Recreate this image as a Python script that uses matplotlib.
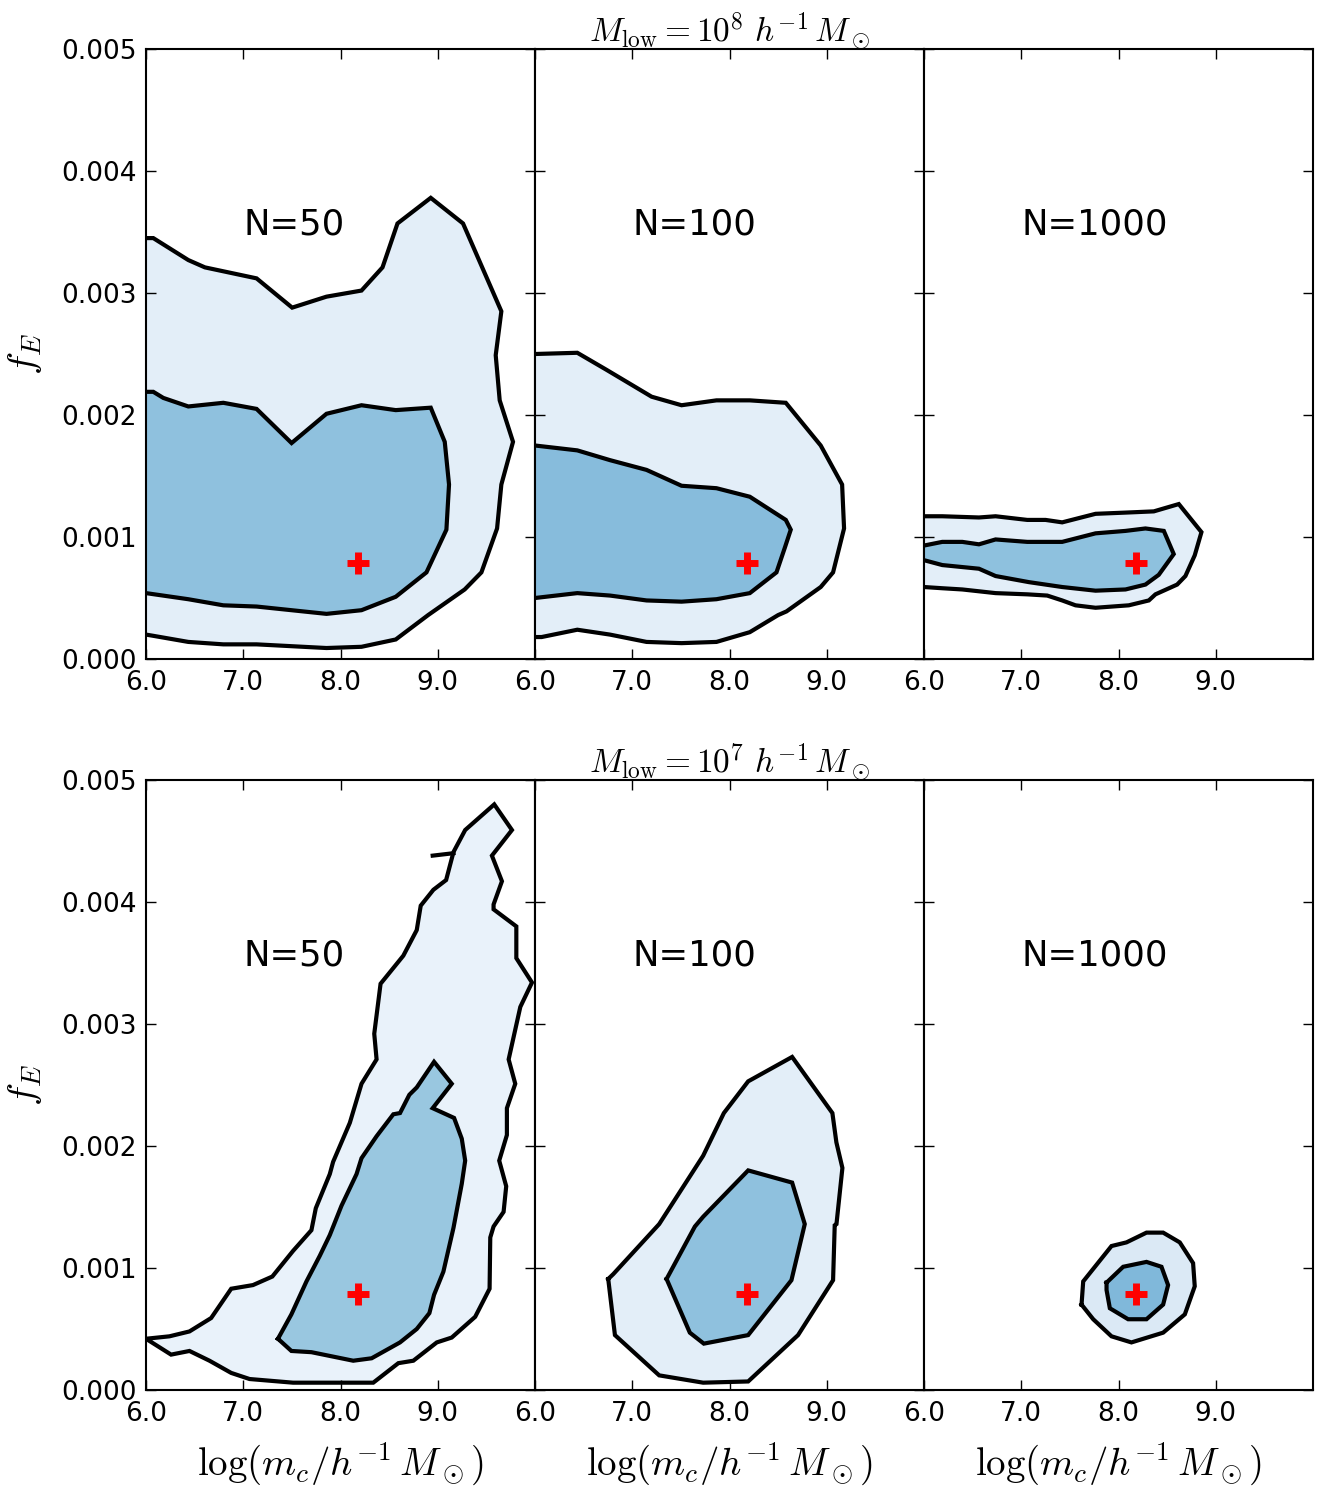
import matplotlib
matplotlib.use('Agg')
import matplotlib.pyplot as plt
from matplotlib.ticker import FormatStrFormatter

plt.rcParams['mathtext.fontset'] = 'cm'
plt.rcParams['font.family'] = 'DejaVu Sans'

# true (input) parameters, red cross
mc_true = 8.18
fe_true = 0.00079

n_labels = ['N=50', 'N=100', 'N=1000']
row_titles = [r'$M_{\rm low}=10^8\ h^{-1}\,M_\odot$', r'$M_{\rm low}=10^7\ h^{-1}\,M_\odot$']
xticks = [6.0, 7.0, 8.0, 9.0]
yticks = [0.000, 0.001, 0.002, 0.003, 0.004, 0.005]

# ---- M_low = 1e8, N=50
t50_out_x = [6.0, 6.075, 6.435, 6.606, 7.137, 7.503, 7.856, 8.216, 8.432, 8.586, 8.928, 9.260, 9.654, 9.596,
             9.637, 9.774, 9.654, 9.610, 9.449, 9.277, 8.901, 8.568, 8.216, 7.856, 7.137, 6.795, 6.435, 6.075, 6.0]
t50_out_y = [0.00345, 0.00345, 0.00327, 0.00321, 0.00312, 0.00288, 0.00297, 0.00302, 0.00321, 0.00357, 0.00378,
             0.00357, 0.00285, 0.00249, 0.00212, 0.00178, 0.00143, 0.00107, 0.00071, 0.00057, 0.00036, 0.00016,
             0.00010, 0.00009, 0.00012, 0.00012, 0.00014, 0.00019, 0.00020]
t50_in_x = [6.0, 6.075, 6.178, 6.435, 6.795, 7.137, 7.497, 7.856, 8.216, 8.568, 8.928, 9.072, 9.116, 9.089,
            8.884, 8.568, 8.216, 7.856, 7.137, 6.795, 6.435, 6.0]
t50_in_y = [0.00219, 0.00219, 0.00214, 0.00207, 0.00210, 0.00205, 0.00177, 0.00201, 0.00208, 0.00204, 0.00206,
            0.00178, 0.00143, 0.00106, 0.00071, 0.00051, 0.00040, 0.00037, 0.00043, 0.00044, 0.00049, 0.00054]

# ---- M_low = 1e8, N=100
t100_out_x = [6.0, 6.435, 6.736, 7.199, 7.507, 7.866, 8.209, 8.579, 8.938, 9.158, 9.178, 9.065, 8.938, 8.586,
              8.500, 8.209, 7.866, 7.507, 7.147, 6.771, 6.435, 6.068, 6.0]
t100_out_y = [0.00250, 0.00251, 0.00237, 0.00215, 0.00208, 0.00212, 0.00212, 0.00210, 0.00175, 0.00143, 0.00107,
              0.00071, 0.00059, 0.00039, 0.00036, 0.00022, 0.00014, 0.00013, 0.00014, 0.00020, 0.00024, 0.00018,
              0.00018]
t100_in_x = [6.0, 6.435, 6.771, 7.147, 7.507, 7.866, 8.209, 8.579, 8.630, 8.568, 8.483, 8.209, 7.866, 7.507,
             7.147, 6.771, 6.435, 6.0]
t100_in_y = [0.00175, 0.00171, 0.00163, 0.00155, 0.00142, 0.00140, 0.00133, 0.00114, 0.00106, 0.00091, 0.00071,
             0.00054, 0.00049, 0.00047, 0.00048, 0.00052, 0.00054, 0.00050]

# ---- M_low = 1e8, N=1000
t1000_out_x = [6.0, 6.188, 6.565, 6.736, 7.062, 7.250, 7.421, 7.764, 8.072, 8.363, 8.620, 8.853, 8.784, 8.688,
               8.603, 8.380, 8.312, 8.106, 7.764, 7.558, 7.421, 7.267, 7.062, 6.736, 6.394, 6.188, 6.0]
t1000_out_y = [0.00117, 0.00117, 0.00116, 0.00117, 0.00114, 0.00114, 0.00112, 0.00119, 0.00120, 0.00121, 0.00127,
               0.00104, 0.00085, 0.00068, 0.00061, 0.00053, 0.00048, 0.00044, 0.00042, 0.00044, 0.00048, 0.00052,
               0.00053, 0.00054, 0.00057, 0.00058, 0.00059]
t1000_in_x = [6.0, 6.188, 6.394, 6.565, 6.736, 7.062, 7.421, 7.764, 8.072, 8.277, 8.466, 8.568, 8.414, 8.277,
              8.072, 7.764, 7.421, 7.079, 6.736, 6.565, 6.188, 6.0]
t1000_in_y = [0.00093, 0.00096, 0.00096, 0.00094, 0.00098, 0.00096, 0.00096, 0.00103, 0.00105, 0.00107, 0.00105,
              0.00086, 0.00069, 0.00061, 0.00057, 0.00056, 0.00059, 0.00063, 0.00068, 0.00074, 0.00077, 0.00081]

# ---- M_low = 1e7, N=50
b50_out_x = [6.0, 6.241, 6.447, 6.670, 6.876, 7.100, 7.299, 7.512, 7.701, 7.746, 7.890, 7.924, 8.096, 8.216,
             8.371, 8.347, 8.412, 8.646, 8.784, 8.825, 8.955, 9.086, 9.162, 9.282, 9.581, 9.763, 9.557, 9.660,
             9.574, 9.574, 9.808, 9.808, 9.969, 9.849, 9.729, 9.797, 9.711, 9.711, 9.632, 9.704, 9.677, 9.574,
             9.540, 9.533, 9.385, 9.144, 8.990, 8.749, 8.595, 8.337, 8.113, 7.838, 7.512, 7.065, 6.876, 6.653,
             6.447, 6.258, 6.0]
b50_out_y = [0.00042, 0.00044, 0.00048, 0.00059, 0.00083, 0.00086, 0.00093, 0.00114, 0.00131, 0.00149, 0.00177,
             0.00187, 0.00219, 0.00251, 0.00271, 0.00292, 0.00333, 0.00356, 0.00377, 0.00397, 0.00410, 0.00418,
             0.00441, 0.00459, 0.00480, 0.00459, 0.00438, 0.00417, 0.00398, 0.00394, 0.00380, 0.00354, 0.00334,
             0.00314, 0.00271, 0.00251, 0.00231, 0.00209, 0.00188, 0.00167, 0.00146, 0.00134, 0.00125, 0.00083,
             0.00060, 0.00043, 0.00039, 0.00024, 0.00022, 0.00006, 0.00006, 0.00006, 0.00006, 0.00009, 0.00014,
             0.00024, 0.00032, 0.00029, 0.00042]
b50_in_x = [7.357, 7.495, 7.701, 8.131, 8.320, 8.612, 8.784, 8.914, 8.962, 9.058, 9.162, 9.247, 9.282, 9.247,
            9.168, 8.948, 9.144, 8.962, 8.784, 8.708, 8.612, 8.543, 8.371, 8.216, 8.165, 8.010, 7.890, 7.787,
            7.650, 7.495, 7.357]
b50_in_y = [0.00042, 0.00032, 0.00031, 0.00024, 0.00026, 0.00039, 0.00050, 0.00063, 0.00078, 0.00097, 0.00133,
            0.00169, 0.00188, 0.00206, 0.00223, 0.00231, 0.00251, 0.00269, 0.00248, 0.00242, 0.00227, 0.00226,
            0.00208, 0.00190, 0.00177, 0.00151, 0.00127, 0.00110, 0.00089, 0.00062, 0.00042]
b50_stray_x = [8.948, 9.162]
b50_stray_y = [0.00438, 0.00440]

# ---- M_low = 1e7, N=100
b100_out_x = [6.753, 6.822, 7.277, 7.729, 8.192, 8.705, 9.065, 9.082, 9.100, 9.161, 9.099, 9.058, 8.644, 8.192,
              7.942, 7.729, 7.277, 6.805, 6.753]
b100_out_y = [0.00091, 0.00045, 0.00012, 0.00006, 0.00007, 0.00045, 0.00090, 0.00135, 0.00136, 0.00182, 0.00203,
              0.00227, 0.00273, 0.00253, 0.00227, 0.00192, 0.00136, 0.00095, 0.00091]
b100_in_x = [7.353, 7.592, 7.736, 8.192, 8.637, 8.774, 8.644, 8.192, 7.729, 7.644, 7.353]
b100_in_y = [0.00091, 0.00047, 0.00038, 0.00045, 0.00090, 0.00136, 0.00170, 0.00180, 0.00142, 0.00134, 0.00091]

# ---- M_low = 1e7, N=1000
b1000_out_x = [7.620, 7.637, 7.928, 8.082, 8.288, 8.459, 8.630, 8.767, 8.784, 8.682, 8.459, 8.133, 7.928, 7.740,
               7.620]
b1000_out_y = [0.00070, 0.00089, 0.00118, 0.00121, 0.00129, 0.00129, 0.00121, 0.00104, 0.00085, 0.00062, 0.00047,
               0.00039, 0.00044, 0.00058, 0.00070]
b1000_in_x = [7.877, 8.048, 8.288, 8.442, 8.510, 8.459, 8.288, 8.099, 7.911, 7.877, 7.877]
b1000_in_y = [0.00088, 0.00101, 0.00105, 0.00101, 0.00086, 0.00070, 0.00058, 0.00058, 0.00067, 0.00082, 0.00088]

# colours of the two filled levels per panel
outer_cols = ['#e3eef8', '#e3eef8', '#e3eef8', '#e9f2fa', '#e3eef8', '#dbe9f5']
inner_cols = ['#8fc1de', '#87bcdc', '#8ec1de', '#99c7e0', '#8fc1de', '#80b8da']

panels = [
    (t50_out_x, t50_out_y, t50_in_x, t50_in_y),
    (t100_out_x, t100_out_y, t100_in_x, t100_in_y),
    (t1000_out_x, t1000_out_y, t1000_in_x, t1000_in_y),
    (b50_out_x, b50_out_y, b50_in_x, b50_in_y),
    (b100_out_x, b100_out_y, b100_in_x, b100_in_y),
    (b1000_out_x, b1000_out_y, b1000_in_x, b1000_in_y),
]

fig = plt.figure(figsize=(13.18, 14.9), dpi=100)
W, H = 1318.0, 1490.0
lefts = [146, 535, 924]
tops = [49, 780]
pw, ph = 389, 610

for r in range(2):
    for c in range(3):
        k = r * 3 + c
        ax = fig.add_axes([lefts[c] / W, 1 - (tops[r] + ph) / H, pw / W, ph / H])
        ox, oy, ix, iy = panels[k]
        ax.fill(ox, oy, color=outer_cols[k], lw=0, zorder=1)
        ax.fill(ix, iy, color=inner_cols[k], lw=0, zorder=2)
        ax.plot(ox, oy, color='k', lw=3.0, zorder=3, solid_joinstyle='miter')
        ax.plot(ix, iy, color='k', lw=3.0, zorder=3, solid_joinstyle='miter')
        if k == 3:
            ax.plot(b50_stray_x, b50_stray_y, color='k', lw=3.0, zorder=3)
        ax.plot([mc_true], [fe_true], marker='+', color='red', ms=16, mew=5, zorder=5)
        ax.text(7.0, 0.00356, n_labels[c], fontsize=25.5, ha='left', va='center')
        ax.set_xlim(6.0, 10.0)
        ax.set_ylim(0.0, 0.005)
        ax.set_xticks(xticks)
        ax.set_yticks(yticks)
        ax.xaxis.set_major_formatter(FormatStrFormatter('%.1f'))
        ax.yaxis.set_major_formatter(FormatStrFormatter('%.3f'))
        ax.tick_params(direction='in', length=7, width=1, top=True, right=True, labelsize=19)
        ax.tick_params(axis='x', pad=8)
        ax.tick_params(axis='y', pad=7)
        for s in ax.spines.values():
            s.set_linewidth(1.5)
        if c > 0:
            ax.set_yticklabels([])
        else:
            ax.set_ylabel(r'$f_E$', fontsize=28, labelpad=12)
        if c == 1:
            ax.set_title(row_titles[r], fontsize=24, pad=5)
        if r == 1:
            ax.set_xlabel(r'$\log(m_c/h^{-1}\,M_\odot)$', fontsize=28, labelpad=10)

fig.savefig('out.png', dpi=100)
